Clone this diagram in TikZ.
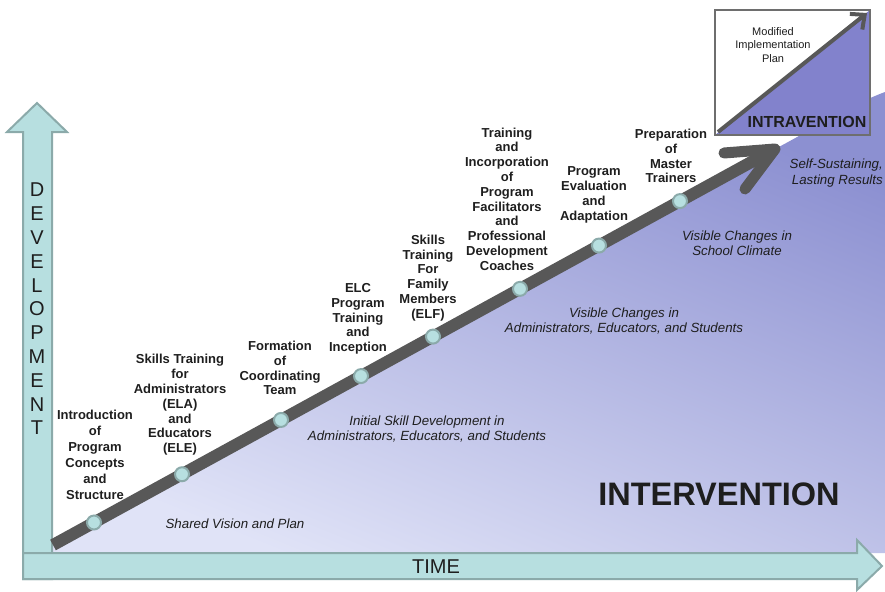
\documentclass[tikz,border=0pt]{standalone}
\usepackage{fontspec}
\setmainfont{Liberation Sans}
\usetikzlibrary{calc,arrows.meta}
\definecolor{teal1}{HTML}{B7DFE0}
\definecolor{tealb}{HTML}{8BAAAA}
\definecolor{lavL}{HTML}{E0E3F7}
\definecolor{lavD}{HTML}{8C90D1}
\definecolor{purp}{HTML}{8282CC}
\definecolor{dgray}{HTML}{585858}
\definecolor{boxgray}{HTML}{6E6E6E}
\definecolor{txt}{HTML}{1E1E1E}
\begin{document}
\begin{tikzpicture}[x=1pt,y=-1pt,
  milestone/.style={circle,fill=teal1,draw=tealb,line width=2pt,minimum size=14pt,inner sep=0pt},
  steplabel/.style={align=center,font=\fontsize{13}{14.8}\selectfont\bfseries,text=txt,inner sep=0pt},
  phase/.style={align=center,font=\fontsize{13.3}{15.5}\selectfont\itshape,text=txt,inner sep=0pt},
  axisarrow/.style={fill=teal1,draw=tealb,line width=2pt,line join=miter}]
\useasboundingbox (0,0) rectangle (885,591);
% main arrow coordinates
\coordinate (s) at (53,545);
\coordinate (tip) at (775,149);
\coordinate (armA) at (724,153);
\coordinate (armB) at (745,189);
% shaded region
\shade[bottom color=lavL, top color=lavD, shading angle=-22]
  (52,553) -- (52,546) -- (tip) .. controls (815,128) and (850,105) .. (885,92) -- (885,553) -- cycle;
% axes
\draw[axisarrow] (23,579) -- (23,132) -- (7,132) -- (37,103) -- (67,132) -- (52,132) -- (52,579) -- cycle;
\draw[axisarrow] (23,553) -- (857,553) -- (857,540) -- (882,566) -- (857,590) -- (857,579) -- (23,579) -- cycle;
\node[font=\fontsize{20}{20}\selectfont,text=txt] (time) at (436,567) {TIME};
\node[align=center,font=\fontsize{20}{23.8}\selectfont,text=txt,inner sep=0pt] (dev) at (37,309)
  {D\\E\\V\\E\\L\\O\\P\\M\\E\\N\\T};
% top-right box
\fill[white] (715,10) rectangle (870,135);
\fill[purp] (715,135) -- (870,10) -- (870,135) -- cycle;
\draw[boxgray,line width=2.5pt] (715,10) rectangle (870,135);
\coordinate (bxa) at (718,132);
\coordinate (bxb) at (867,13);
\draw[dgray,line width=4pt,-{Straight Barb[length=11pt,width=20pt]}] (bxa) -- (bxb);
\node[align=center,font=\fontsize{11}{13.5}\selectfont,text=txt,inner sep=0pt] (modplan) at (773,45)
  {Modified\\Implementation\\Plan};
\node[font=\fontsize{16}{16}\selectfont\bfseries,text=txt,inner sep=0pt] (intra) at (807,122) {INTRAVENTION};
% main arrow
\draw[dgray,line width=12pt] (s) -- (tip);
\draw[dgray,line width=11pt,line cap=round,line join=round] (armA) -- (tip) -- (armB);
\foreach \t [count=\i] in {0.0568,0.1787,0.3158,0.4266,0.5263,0.6468,0.7562,0.8684}
  \node[milestone] (m\i) at ($(s)!\t!(tip)$) {};
% step labels
\node[steplabel,font=\fontsize{13}{16}\selectfont\bfseries] (l1) at (95,455) {Introduction\\of\\Program\\Concepts\\and\\Structure};
\node[steplabel] (l2) at (180,405) {Skills Training\\for\\Administrators\\(ELA)\\and\\Educators\\(ELE)};
\node[steplabel] (l3) at (280,368) {Formation\\of\\Coordinating\\Team};
\node[steplabel] (l4) at (358,319) {ELC\\Program\\Training\\and\\Inception};
\node[steplabel] (l5) at (428,278) {Skills\\Training\\For\\Family\\Members\\(ELF)};
\node[steplabel] (l6) at (507,199) {Training\\and\\Incorporation\\of\\Program\\Facilitators\\and\\Professional\\Development\\Coaches};
\node[steplabel] (l7) at (594,195) {Program\\Evaluation\\and\\Adaptation};
\node[steplabel] (l8) at (671,156) {Preparation\\of\\Master\\Trainers};
% phase labels
\node[phase] (p1) at (235,524) {Shared Vision and Plan};
\node[phase] (p2) at (427,429) {Initial Skill Development in\\Administrators, Educators, and Students};
\node[phase] (p3) at (624,321) {Visible Changes in\\Administrators, Educators, and Students};
\node[phase] (p4) at (737,243) {Visible Changes in\\School Climate};
\node[phase,align=right,anchor=east] (p5) at (883,173) {Self-Sustaining,\\Lasting Results};
\node[font=\fontsize{32.5}{32.5}\selectfont\bfseries,text=txt,inner sep=0pt] (interv) at (719,494) {INTERVENTION};
\end{tikzpicture}
\end{document}
